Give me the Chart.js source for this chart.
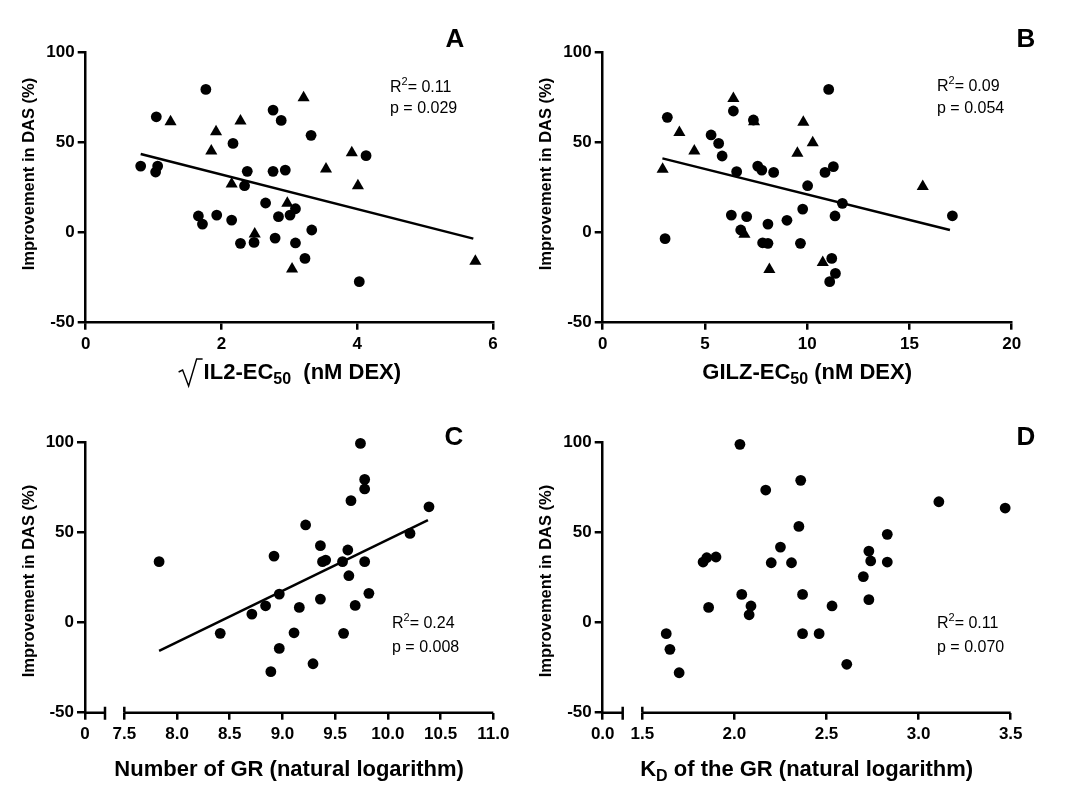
<!DOCTYPE html>
<html>
<head>
<meta charset="utf-8">
<script src="https://cdn.jsdelivr.net/npm/chart.js@4.4.0/dist/chart.umd.min.js"></script>
<style>
html,body{margin:0;padding:0;background:#fff;}
#wrap{position:relative;width:1072px;height:797px;background:#fff;}
.p{position:absolute;}
</style>
</head>
<body>
<div id="wrap">
  <div class="p" style="left:0;top:0;width:536px;height:398px"><canvas id="cA"></canvas></div>
  <div class="p" style="left:536px;top:0;width:536px;height:398px"><canvas id="cB"></canvas></div>
  <div class="p" style="left:0;top:398px;width:536px;height:399px"><canvas id="cC"></canvas></div>
  <div class="p" style="left:536px;top:398px;width:536px;height:399px"><canvas id="cD"></canvas></div>
</div>
<script>
// ---------- DATA ----------
// Panel A: sqrt IL2-EC50 vs improvement in DAS
const aCircleX = [1.77,1.04,0.81,1.06,1.03,2.17,2.76,2.88,3.32,4.13,2.38,2.76,2.94,2.34,2.65,1.66,1.72,1.93,2.15,2.84,3.01,3.09,3.33,2.28,2.48,2.79,3.09,3.23,4.03];
const aCircleY = [79.6,64.4,37.0,37.0,33.7,49.6,68.1,62.4,54.1,42.8,34.1,34.1,34.8,26.1,16.5,9.3,4.8,9.8,7.0,8.9,9.8,13.3,1.5,-5.9,-5.4,-3.0,-5.7,-14.3,-27.2];
const aTriX = [1.25,1.92,1.85,2.28,3.21,2.15,2.49,2.97,3.04,3.54,3.92,4.01,5.74];
const aTriY = [61.7,56.1,45.4,62.0,75.0,27.0,-0.7,16.3,-20.2,35.4,44.4,26.1,-15.9];
const aFitX = [0.81,5.71];
const aFitY = [43.7,-3.3];
const aTicksX = [0,2,4,6];

// Panel B: GILZ-EC50 vs improvement in DAS
const bCircleX = [3.16,3.05,6.39,7.37,5.30,5.67,5.84,6.55,7.58,7.78,8.36,10.02,10.87,11.28,11.05,11.72,9.78,11.36,17.10,6.29,7.04,6.75,8.08,9.01,7.82,8.08,9.67,11.20,11.38,11.10];
const bCircleY = [64.1,-3.3,67.6,62.6,54.3,49.6,42.6,33.9,37.0,34.8,33.5,26.1,33.5,36.7,79.6,16.3,13.1,9.3,9.4,9.8,8.9,1.5,4.8,6.9,-5.6,-5.9,-5.9,-14.3,-22.6,-27.2];
const bTriX = [2.93,3.75,4.48,6.39,7.40,6.93,8.15,9.81,10.27,9.52,10.76,15.65];
const bTriY = [35.2,55.6,45.4,74.6,61.7,-0.9,-20.4,61.3,50.0,44.1,-16.5,25.6];
const bFitX = [2.92,16.98];
const bFitY = [41.3,1.5];
const bTicksX = [0,5,10,15,20];

// Panel C: number of GR (ln) vs improvement in DAS
const cX = [7.83,8.41,8.71,8.84,8.97,8.92,8.89,8.97,9.11,9.16,9.22,9.29,9.36,9.36,9.38,9.41,9.57,9.62,9.58,9.63,9.65,9.69,9.74,9.78,9.78,9.78,9.82,10.21,10.39];
const cY = [33.9,-5.9,4.8,9.4,15.9,37.0,-27.2,-14.3,-5.6,8.5,54.3,-22.8,42.8,13.1,33.9,34.8,33.9,40.4,-5.9,26.1,67.8,9.6,99.6,79.6,74.3,33.9,16.3,49.6,64.4];
const cFitX = [7.83,10.38];
const cFitY = [-15.6,57.0];
const cTickVals = [7.5,8.0,8.5,9.0,9.5,10.0,10.5,11.0];
const cTickLabels = ['7.5','8.0','8.5','9.0','9.5','10.0','10.5','11.0'];

// Panel D: KD of the GR (ln) vs improvement in DAS
const dX = [2.03,2.36,2.17,3.11,3.47,2.35,2.83,2.25,1.83,1.85,1.90,2.20,2.31,2.73,2.74,2.83,2.70,2.73,2.04,2.37,2.09,2.08,1.86,2.53,1.63,1.65,1.70,2.37,2.46,2.61];
const dY = [99.1,79.1,73.7,67.2,63.7,53.5,49.1,42.0,33.7,36.1,36.5,33.3,33.3,39.8,34.3,33.7,25.6,12.8,15.7,15.7,9.3,4.4,8.5,9.3,-6.1,-14.8,-27.8,-6.1,-6.1,-23.1];
const dTickVals = [1.5,2.0,2.5,3.0,3.5];
const dTickLabels = ['1.5','2.0','2.5','3.0','3.5'];

const yTicks = [-50,0,50,100];
const yTitle = 'Improvement in DAS (%)';

// ---------- HELPERS ----------
const FONT = 'Arial, "Liberation Sans", sans-serif';
const pts = (xs, ys) => xs.map((x, i) => ({x: x, y: ys[i]}));

function yScale() {
  return {
    type: 'linear', min: -50, max: 100,
    afterBuildTicks: s => { s.ticks = yTicks.map(v => ({value: v})); },
    ticks: {color: '#000', font: {family: FONT, size: 17, weight: 'bold'}, padding: 3},
    grid: {display: true, drawOnChartArea: false, drawTicks: true, tickLength: 8, color: '#000', lineWidth: 2.5},
    border: {display: true, color: '#000', width: 2.5}
  };
}

function textPlugin(cfg) {
  return {
    id: 'txt' + cfg.letter,
    afterDraw(chart) {
      const ctx = chart.ctx;
      const ca = chart.chartArea;
      ctx.save();
      ctx.fillStyle = '#000';
      ctx.strokeStyle = '#000';
      // panel letter
      ctx.font = 'bold 26px ' + FONT;
      ctx.textAlign = 'center';
      ctx.textBaseline = 'alphabetic';
      ctx.fillText(cfg.letter, cfg.letterX, cfg.letterY);
      // R2 / p
      ctx.textAlign = 'left';
      ctx.font = '16px ' + FONT;
      let x = cfg.statX;
      ctx.fillText('R', x, cfg.statY1);
      x += ctx.measureText('R').width;
      ctx.font = '11px ' + FONT;
      ctx.fillText('2', x, cfg.statY1 - 7);
      x += ctx.measureText('2').width;
      ctx.font = '16px ' + FONT;
      ctx.fillText('= ' + cfg.r2, x, cfg.statY1);
      ctx.fillText('p = ' + cfg.p, cfg.statX, cfg.statY2);
      // y title
      ctx.save();
      ctx.translate(cfg.yTitleX, cfg.yTitleY);
      ctx.rotate(-Math.PI / 2);
      ctx.font = 'bold 16.5px ' + FONT;
      ctx.textAlign = 'center';
      ctx.textBaseline = 'middle';
      ctx.fillText(yTitle, 0, 0);
      ctx.restore();
      // x title (parts)
      const parts = cfg.xTitle;
      let total = 0;
      parts.forEach(p => { ctx.font = p.f; p.w = ctx.measureText(p.t).width; total += p.w; });
      const extra = cfg.sqrt ? 26 : 0;
      let tx = (ca.left + ca.right) / 2 - (total + extra) / 2;
      const base = cfg.xTitleY;
      if (cfg.sqrt) {
        ctx.lineWidth = 1.4;
        ctx.beginPath();
        ctx.moveTo(tx + 1, base - 7);
        ctx.lineTo(tx + 5, base - 9);
        ctx.lineTo(tx + 11, base + 7);
        ctx.lineTo(tx + 19, base - 20);
        ctx.lineTo(tx + 25, base - 20);
        ctx.stroke();
        tx += extra;
      }
      ctx.textAlign = 'left';
      parts.forEach(p => { ctx.font = p.f; ctx.fillText(p.t, tx, base + (p.dy || 0)); tx += p.w; });
      // broken x axis
      if (cfg.broken) {
        const xs = chart.scales.x;
        const yb = ca.bottom;
        const segEnd = ca.left + 20;
        const segStart = xs.getPixelForValue(cfg.brokenStart);
        ctx.lineWidth = 2.5;
        ctx.beginPath();
        ctx.moveTo(ca.left, yb); ctx.lineTo(segEnd, yb);
        ctx.moveTo(segStart, yb); ctx.lineTo(ca.right, yb);
        ctx.moveTo(segEnd, yb - 6); ctx.lineTo(segEnd, yb + 7);
        ctx.moveTo(segStart, yb - 6); ctx.lineTo(segStart, yb);
        ctx.stroke();
      }
      ctx.restore();
    }
  };
}

const BT = 'bold 22px ' + FONT;
const BS = 'bold 16px ' + FONT;

function makeChart(id, datasets, xCfg, layout, txt) {
  const ys = yScale();
  ys.afterFit = s => { s.width = layout.yw; };
  xCfg.afterFit = s => { s.height = layout.xh; };
  return new Chart(document.getElementById(id), {
    type: 'scatter',
    data: {datasets: datasets},
    options: {
      responsive: true, maintainAspectRatio: false, animation: false,
      layout: {autoPadding: false, padding: {top: layout.top, right: layout.right, left: 0, bottom: 0}},
      plugins: {legend: {display: false}, tooltip: {enabled: false}},
      scales: {x: xCfg, y: ys}
    },
    plugins: [textPlugin(txt)]
  });
}

function circleDs(data) {
  return {type: 'scatter', data: data, pointStyle: 'circle', pointRadius: 5.4, backgroundColor: '#000', borderColor: '#000', borderWidth: 0, clip: false};
}
function triDs(data) {
  return {type: 'scatter', data: data, pointStyle: 'triangle', pointRadius: 7, backgroundColor: '#000', borderColor: '#000', borderWidth: 0, clip: false};
}
function fitDs(data) {
  return {type: 'line', data: data, borderColor: '#000', borderWidth: 2.5, pointRadius: 0, fill: false, tension: 0, clip: false};
}
function xLinear(min, max, vals, labels, broken) {
  return {
    type: 'linear', min: min, max: max,
    afterBuildTicks: s => { s.ticks = vals.map(v => ({value: v})); },
    ticks: {color: '#000', font: {family: FONT, size: 17, weight: 'bold'}, padding: 4, maxRotation: 0, autoSkip: false,
      callback: (v) => { const i = vals.indexOf(v); return labels ? labels[i] : String(v); }},
    grid: {display: true, drawOnChartArea: false, drawTicks: true, tickLength: 7, color: '#000', lineWidth: 2.5},
    border: {display: !broken, color: '#000', width: 2.5}
  };
}

// Panel A
makeChart('cA',
  [circleDs(pts(aCircleX, aCircleY)), triDs(pts(aTriX, aTriY)), fitDs(pts(aFitX, aFitY))],
  xLinear(0, 6, aTicksX, null, false),
  {yw: 85.7, xh: 75.3, top: 52.7, right: 43},
  {letter: 'A', letterX: 455, letterY: 47, statX: 390, statY1: 92, statY2: 113, r2: '0.11', p: '0.029',
   yTitleX: 29, yTitleY: 174, xTitleY: 379, sqrt: true,
   xTitle: [{t: 'IL2-EC', f: BT}, {t: '50', f: BS, dy: 5}, {t: '  (nM DEX)', f: BT}]});

// Panel B
makeChart('cB',
  [circleDs(pts(bCircleX, bCircleY)), triDs(pts(bTriX, bTriY)), fitDs(pts(bFitX, bFitY))],
  xLinear(0, 20, bTicksX, null, false),
  {yw: 66.7, xh: 75.3, top: 52.7, right: 60.3},
  {letter: 'B', letterX: 490, letterY: 47, statX: 401, statY1: 91, statY2: 113, r2: '0.09', p: '0.054',
   yTitleX: 10, yTitleY: 174, xTitleY: 379, sqrt: false,
   xTitle: [{t: 'GILZ-EC', f: BT}, {t: '50', f: BS, dy: 5}, {t: ' (nM DEX)', f: BT}]});

// Panel C
const cMin = 7.5 - 39.3 / 105.43;
makeChart('cC',
  [circleDs(pts(cX, cY)), fitDs(pts(cFitX, cFitY))],
  xLinear(cMin, 11.0, [cMin].concat(cTickVals), ['0'].concat(cTickLabels), true),
  {yw: 85, xh: 84.3, top: 44.7, right: 42.7},
  {letter: 'C', letterX: 454, letterY: 47, statX: 392, statY1: 230, statY2: 254, r2: '0.24', p: '0.008',
   yTitleX: 29, yTitleY: 183, xTitleY: 378, sqrt: false, broken: true, brokenStart: 7.5,
   xTitle: [{t: 'Number of GR (natural logarithm)', f: BT}]});

// Panel D
const dMin = 1.5 - 39.6 / 184.2;
makeChart('cD',
  [circleDs(pts(dX, dY))],
  xLinear(dMin, 3.5, [dMin].concat(dTickVals), ['0.0'].concat(dTickLabels), true),
  {yw: 66.7, xh: 84.3, top: 44.7, right: 61.3},
  {letter: 'D', letterX: 490, letterY: 47, statX: 401, statY1: 230, statY2: 254, r2: '0.11', p: '0.070',
   yTitleX: 10, yTitleY: 183, xTitleY: 378, sqrt: false, broken: true, brokenStart: 1.5,
   xTitle: [{t: 'K', f: BT}, {t: 'D', f: BS, dy: 5}, {t: ' of the GR (natural logarithm)', f: BT}]});
</script>
</body>
</html>
